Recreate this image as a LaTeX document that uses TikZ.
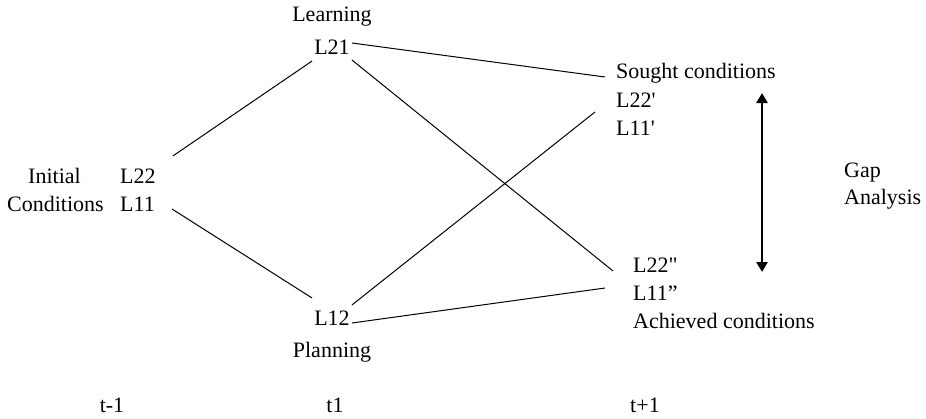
\documentclass[tikz,border=0pt]{standalone}
\usepackage{fontspec}
\newfontfamily\figfont{Liberation Serif}
\usetikzlibrary{arrows.meta}
\begin{document}
\begin{tikzpicture}[x=1pt,y=-1pt,
  lbl/.style={inner sep=0pt,font=\figfont\fontsize{22pt}{26pt}\selectfont},
  link/.style={line width=1pt,black},
  gaparrow/.style={line width=2.6pt,{Triangle[width=11pt,length=10pt]}-{Triangle[width=11pt,length=10pt]}}]
\useasboundingbox (0,0) rectangle (926,418);
% middle column
\node[lbl,anchor=base] (learning) at (332,21) {Learning};
\node[lbl,anchor=base] (l21) at (332,54) {L21};
\node[lbl,anchor=base] (l12) at (332,325) {L12};
\node[lbl,anchor=base] (planning) at (332,357) {Planning};
% initial conditions
\node[lbl,anchor=base west] (initial) at (28,183) {Initial};
\node[lbl,anchor=base west] (l22) at (120,183) {L22};
\node[lbl,anchor=base west] (conditions) at (7,211) {Conditions};
\node[lbl,anchor=base west] (l11) at (120,211) {L11};
% sought conditions
\node[lbl,anchor=base west] (sought) at (616,78) {Sought conditions};
\node[lbl,anchor=base west] (l22p) at (616,107) {L22'};
\node[lbl,anchor=base west] (l11p) at (616,135) {L11'};
% achieved conditions
\node[lbl,anchor=base west] (l22pp) at (633,272) {L22"};
\node[lbl,anchor=base west] (l11pp) at (633,300) {L11”};
\node[lbl,anchor=base west] (achieved) at (633,328) {Achieved conditions};
% gap analysis
\node[lbl,anchor=base west] (gap) at (844,177) {Gap};
\node[lbl,anchor=base west] (analysis) at (844,204) {Analysis};
\coordinate (gtop) at (762,93);
\coordinate (gbot) at (762,272);
% time axis
\node[lbl,anchor=base] (tm1) at (112,412) {t-1};
\node[lbl,anchor=base] (t1) at (335,412) {t1};
\node[lbl,anchor=base] (tp1) at (645,412) {t+1};
% connectors
\draw[link] ([xshift=17pt,yshift=27pt]l22.base east) -- ([xshift=-2pt,yshift=-7pt]l21.base west);
\draw[link] ([xshift=17pt,yshift=2pt]l11.base east) -- ([xshift=-2pt,yshift=27pt]l12.base west);
\draw[link] ([xshift=2pt,yshift=11pt]l21.base east) -- ([xshift=-11pt,yshift=1pt]sought.base west);
\draw[link] ([xshift=2pt,yshift=-6pt]l21.base east) -- ([xshift=-20pt,yshift=1pt]l22pp.base west);
\draw[link] ([xshift=2pt,yshift=20pt]l12.base east) -- ([xshift=-21pt,yshift=-5pt]l22p.base west);
\draw[link] ([xshift=2pt,yshift=2pt]l12.base east) -- ([xshift=-28pt,yshift=12pt]l11pp.base west);
\draw[gaparrow] (gtop) -- (gbot);
\end{tikzpicture}
\end{document}
